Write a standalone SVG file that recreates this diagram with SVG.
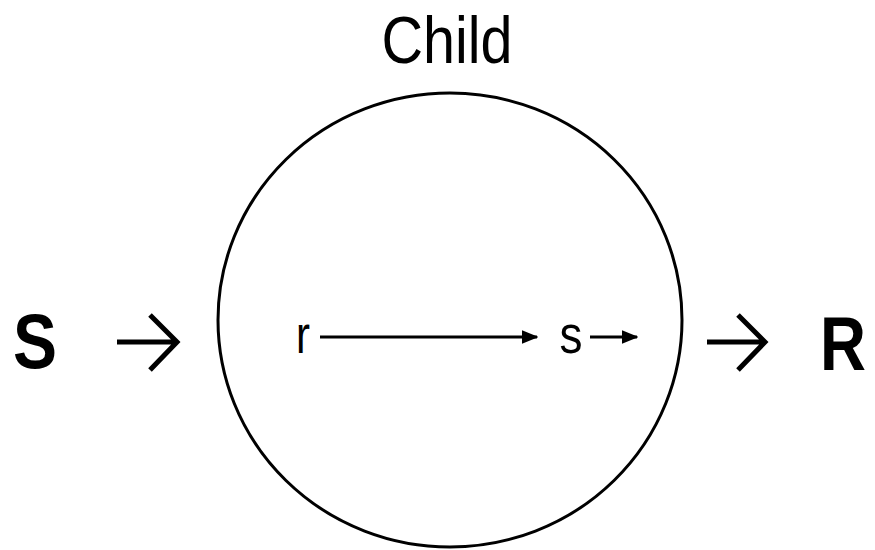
<svg xmlns="http://www.w3.org/2000/svg" width="875" height="550" viewBox="0 0 875 550">
<style>
  .t { font-family: "Liberation Sans", Arial, sans-serif; fill: #000; text-anchor: middle; }
  .b { font-weight: bold; }
  .open { fill: none; stroke: #000; stroke-width: 5; }
  .thin { fill: none; stroke: #000; stroke-width: 2.8; }
</style>
<defs>
  <marker id="ah" markerWidth="6" markerHeight="5" refX="5.5" refY="2.5" orient="auto" markerUnits="strokeWidth">
    <path d="M0,0 L6,2.5 L0,5 Z" fill="#000"/>
  </marker>
</defs>
<rect width="875" height="550" fill="#fff"/>
<g id="title">
  <text class="t" x="447" y="63" font-size="67" textLength="131" lengthAdjust="spacingAndGlyphs">Child</text>
</g>
<g id="child">
  <ellipse cx="450" cy="320" rx="232" ry="227" fill="none" stroke="#000" stroke-width="3"/>
</g>
<g id="S">
  <text class="t b" x="35" y="368" font-size="78" textLength="44" lengthAdjust="spacingAndGlyphs">S</text>
</g>
<g id="R">
  <text class="t b" x="843" y="370" font-size="76" textLength="46" lengthAdjust="spacingAndGlyphs">R</text>
</g>
<g id="r">
  <text class="t" x="303" y="353" font-size="54" textLength="14" lengthAdjust="spacingAndGlyphs">r</text>
</g>
<g id="s">
  <text class="t" x="571" y="353" font-size="54" textLength="23" lengthAdjust="spacingAndGlyphs">s</text>
</g>
<g id="connectors">
  <path class="open" d="M117,342 H177 M150,315 L177,342 L150,370"/>
  <path class="open" d="M707,342 H765 M738,315 L765,342 L738,370"/>
  <path class="thin" d="M320,337 H537" marker-end="url(#ah)"/>
  <path class="thin" d="M590,337 H637" marker-end="url(#ah)"/>
</g>
</svg>
